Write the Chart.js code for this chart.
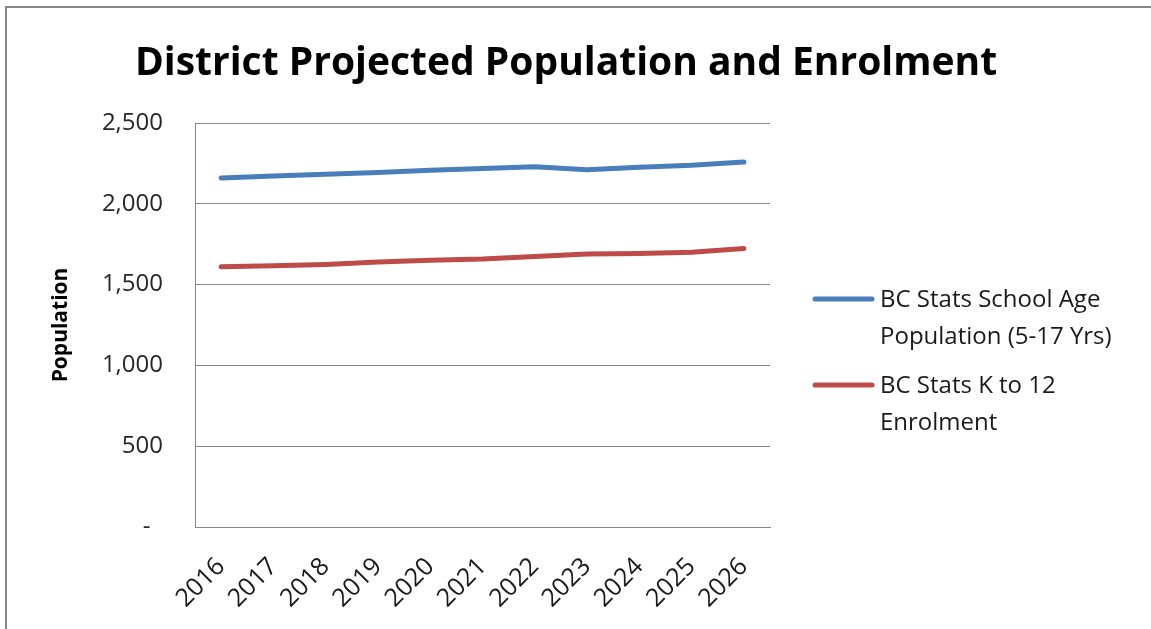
<!DOCTYPE html>
<html>
<head>
<meta charset="utf-8">
<script src="https://cdn.jsdelivr.net/npm/chart.js@4.4.1/dist/chart.umd.min.js"></script>
<style>
  html, body { margin: 0; padding: 0; background: #fff; }
  #wrap { width: 1151px; height: 629px; }
</style>
</head>
<body>
<div id="wrap"><canvas id="chart" width="1151" height="629"></canvas></div>
<script>
const years = ["2016", "2017", "2018", "2019", "2020", "2021", "2022", "2023", "2024", "2025", "2026"];
const schoolAge = [2160, 2172, 2183, 2194, 2207, 2218, 2229, 2211, 2226, 2238, 2258];
const enrolment = [1610, 1617, 1625, 1640, 1650, 1658, 1674, 1690, 1692, 1700, 1724];
const seriesNames = [
    ["BC Stats School Age", "Population (5-17 Yrs)"],
    ["BC Stats K to 12", "Enrolment"],
];
const yTicks = [0, 500, 1000, 1500, 2000, 2500];
const chartTitle = "District Projected Population and Enrolment";

const FONT = "'Open Sans', 'DejaVu Sans', sans-serif";
const colors = ["#4A7EBB", "#BE4B48"];

// frame, title and the wrapped legend on the right
const decorations = {
    id: "decorations",
    beforeDraw(chart) {
        const ctx = chart.ctx;
        ctx.save();
        ctx.strokeStyle = "#888";
        ctx.lineWidth = 2;
        ctx.strokeRect(6, 7, chart.width + 20, chart.height + 20);
        ctx.restore();
    },
    afterDraw(chart) {
        const ctx = chart.ctx;
        const area = chart.chartArea;

        ctx.save();
        ctx.fillStyle = "#000";
        ctx.font = "bold 39px " + FONT;
        ctx.textAlign = "center";
        ctx.textBaseline = "alphabetic";
        ctx.fillText(chartTitle, 566, 75);
        ctx.restore();

        const lx = area.right + 45;
        let ly = 299;
        ctx.save();
        ctx.font = "24px " + FONT;
        ctx.textBaseline = "middle";
        ctx.textAlign = "left";
        chart.data.datasets.forEach((ds, i) => {
            ctx.strokeStyle = ds.borderColor;
            ctx.lineWidth = 5;
            ctx.lineCap = "round";
            ctx.beginPath();
            ctx.moveTo(lx, ly);
            ctx.lineTo(lx + 57, ly);
            ctx.stroke();
            ctx.fillStyle = "#1a1a1a";
            seriesNames[i].forEach((line, j) => {
                ctx.fillText(line, lx + 65, ly + 1 + j * 37);
            });
            ly += 86;
        });
        ctx.restore();
    },
};

new Chart(document.getElementById("chart").getContext("2d"), {
    type: "line",
    data: {
        labels: years,
        datasets: [
            { label: seriesNames[0].join(" "), data: schoolAge, borderColor: colors[0] },
            { label: seriesNames[1].join(" "), data: enrolment, borderColor: colors[1] },
        ],
    },
    options: {
        responsive: false,
        animation: false,
        devicePixelRatio: 1,
        layout: { padding: { top: 123, right: 381, bottom: 0, left: 0 } },
        elements: {
            line: { borderWidth: 5, tension: 0, borderCapStyle: "round", borderJoinStyle: "round" },
            point: { radius: 0, hoverRadius: 0 },
        },
        plugins: {
            legend: { display: false },
            title: { display: false },
            tooltip: { enabled: false },
        },
        scales: {
            x: {
                offset: true,
                grid: { display: false },
                border: { display: true, color: "#868686", width: 1 },
                ticks: {
                    color: "#1a1a1a",
                    font: { family: FONT, size: 25 },
                    minRotation: 45,
                    maxRotation: 45,
                    padding: 17,
                },
                afterFit: (s) => { s.height = 102; },
            },
            y: {
                min: 0,
                max: 2500,
                afterBuildTicks: (s) => { s.ticks = yTicks.map((v) => ({ value: v })); },
                grid: { color: "#868686", lineWidth: 1, drawTicks: false },
                border: { display: true, color: "#868686", width: 1 },
                ticks: {
                    color: "#262626",
                    font: { family: FONT, size: 24 },
                    padding: 32,
                    // accounting style: zero shows as a dash set in from the right
                    callback: (v) => (v === 0 ? "-  " : v.toLocaleString("en-US")),
                },
                title: {
                    display: true,
                    text: "Population",
                    color: "#000",
                    font: { family: FONT, size: 21, weight: "bold" },
                    padding: { top: 48, bottom: 0 },
                },
                afterFit: (s) => { s.width = 195; },
            },
        },
    },
    plugins: [decorations],
});
</script>
</body>
</html>
